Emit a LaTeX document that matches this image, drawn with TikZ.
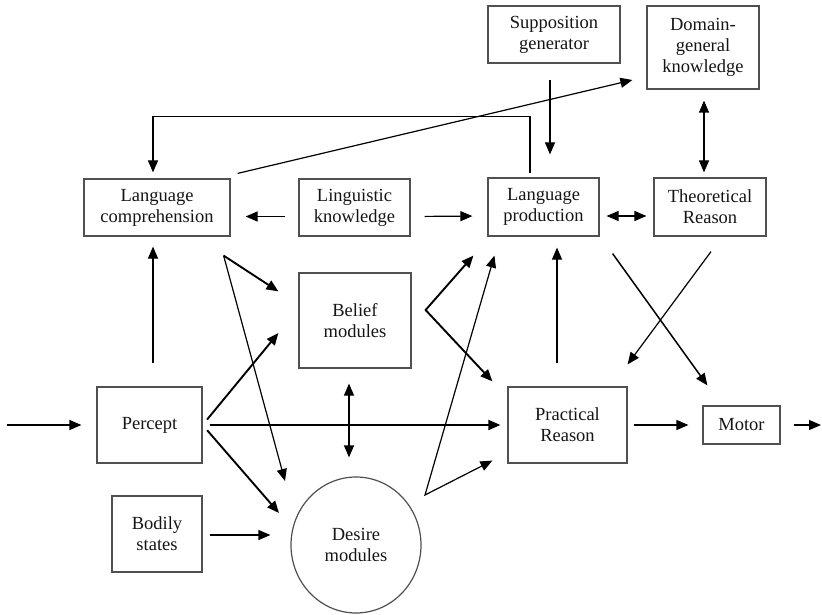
\documentclass[tikz,border=0pt]{standalone}
\usepackage{fontspec}
\setmainfont{Liberation Serif}
\usetikzlibrary{arrows.meta,shapes.geometric}

\begin{document}
\begin{tikzpicture}[x=1pt, y=-1pt,
  box/.style={draw=boxGrey, line width=1.2pt, align=center, inner sep=0pt, text=textDark, font=\fontsize{18.5}{21}\selectfont},
  arr/.style={-{Triangle[length=12pt,width=10pt]}, line width=1.2pt},
  dbl/.style={{Triangle[length=12pt,width=10pt]}-{Triangle[length=12pt,width=10pt]}, line width=1.2pt},
  thk/.style={line width=1.9pt}]

\definecolor{boxGrey}{HTML}{505050}
\definecolor{textDark}{HTML}{151515}

\useasboundingbox (0,0) rectangle (822,615);

\node[box, minimum width=146, minimum height=57] (lcomp) at (157,207.5) {Language\\comprehension};
\node[box, minimum width=111, minimum height=57] (ling) at (354.5,207.5) {Linguistic\\knowledge};
\node[box, minimum width=111, minimum height=58] (lprod) at (543.5,207) {Language\\production};
\node[box, minimum width=112, minimum height=58] (theo) at (710,207) {Theoretical\\Reason};
\node[box, minimum width=132, minimum height=57] (supp) at (554,34.5) {Supposition\\generator};
\node[box, minimum width=112, minimum height=83] (dom) at (703,47.5) {Domain-\\general\\knowledge};
\node[box, minimum width=112, minimum height=95] (belief) at (355,320.5) {Belief\\modules};
\node[box, minimum width=105, minimum height=76] (percept) at (149.5,425) {Percept};
\node[box, minimum width=90, minimum height=76] (bodily) at (157,534) {Bodily\\states};
\node[box, ellipse, minimum width=130, minimum height=136] (desire) at (356,545) {Desire\\modules};
\node[box, minimum width=119, minimum height=76] (practical) at (567.5,425) {Practical\\Reason};
\node[box, minimum width=77, minimum height=38] (motor) at (741.5,425) {Motor};

\coordinate (in) at (7,425);
\coordinate (out) at (821,425);

% input and output
\draw[arr, shorten >=15pt] (in) -- (percept);
\draw[arr, shorten <=13pt] (motor) -- (out);

% language row
\draw[arr, shorten <=23pt, shorten >=10pt] ([xshift=3.5pt]percept.north) -- ([xshift=3.5pt]percept.north |- lcomp.south);
\draw[arr, shorten <=13pt, shorten >=15pt] ([yshift=-9pt]ling.west) -- ([yshift=-9pt]lcomp.east);
\draw[arr, shorten <=14pt, shorten >=15pt] ([yshift=-9pt]ling.east) -- ([yshift=-9pt]lprod.west);
\draw[dbl, shorten <=7pt, shorten >=7pt] ([yshift=-9pt]lprod.east) -- ([yshift=-9pt]theo.west);
\draw[arr, shorten <=16pt, shorten >=23pt] ([xshift=-4pt]supp.south) -- ([xshift=-4pt]supp.south |- lprod.north);
\draw[dbl, shorten <=11pt, shorten >=5pt] ([xshift=1pt]dom.south) -- ([xshift=1pt]dom.south |- theo.north);
\draw[arr, shorten <=4pt, shorten >=6pt] ([xshift=-13.5pt]lprod.north) -- ++(0,-61) -| ([xshift=-4pt]lcomp.north);
\draw[arr] ([shift={(7,-5)}]lcomp.north east) -- ([shift={(-14,32.5)}]dom.west);

% comprehension to modules
\draw[arr, thk] ([shift={(-7,19)}]lcomp.south east) -- ([shift={(-20,19)}]belief.north west);
\draw[arr] ([shift={(-7,19)}]lcomp.south east) -- ([shift={(-71,-64)}]desire.center);

% percept
\draw[arr, thk, shorten <=7pt] (percept.east) -- ([shift={(-20,12.5)}]belief.west);
\draw[arr, thk, shorten <=7pt] (percept.east) -- ([shift={(-77,-32)}]desire.center);
\draw[arr, thk, shorten <=7pt, shorten >=7pt] (percept.east) -- (practical.west);
\draw[arr, shorten <=7pt, shorten >=20pt] ([yshift=-1pt]bodily.east) -- ([yshift=-1pt]bodily.east -| desire.west);
\draw[dbl, shorten <=15pt, shorten >=19pt] ([xshift=-6pt]belief.south) -- ([xshift=-6pt]belief.south |- desire.north);

% modules to production and practical reason
\draw[dbl, thk] ([shift={(-14,19)}]lprod.south west) -- ([shift={(14,-10.5)}]belief.east) -- ([shift={(-15,-5)}]practical.north west);
\draw[dbl] ([shift={(7,19)}]lprod.south west) -- ([shift={(69,-50)}]desire.center) -- ([shift={(-15,-3)}]practical.south west);
\draw[arr, shorten <=23pt, shorten >=11pt] ([xshift=-10.5pt]practical.north) -- ([xshift=-10.5pt]practical.north |- lprod.south);

% crossing arrows
\draw[arr, line width=1.5pt] ([shift={(13,17)}]lprod.south east) -- ([shift={(5,-20)}]motor.north west);
\draw[arr] ([shift={(1,15)}]theo.south) -- ([shift={(0,-22)}]practical.north east);
\draw[arr, shorten <=6pt, shorten >=14pt] (practical.east) -- (motor.west);

\end{tikzpicture}
\end{document}
